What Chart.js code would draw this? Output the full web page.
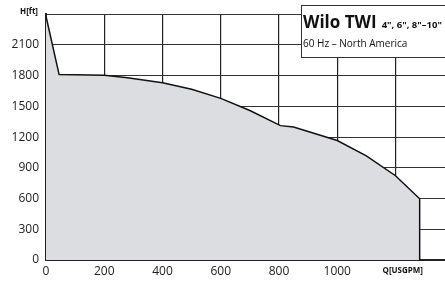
<!DOCTYPE html>
<html>
<head>
<meta charset="utf-8">
<script src="https://cdn.jsdelivr.net/npm/chart.js@4"></script>
<style>
html,body{margin:0;padding:0;background:#fff;overflow:hidden;}
#wrap{position:relative;width:445px;height:283px;}
</style>
</head>
<body>
<div id="wrap"><canvas id="c" width="445" height="283"></canvas></div>
<script>
// Data
const flowUSGPM = [0, 45, 100, 200, 280, 400, 500, 600, 700, 805, 850, 900, 1000, 1100, 1200, 1283, 1283];
const headFt    = [2380, 1810, 1808, 1803, 1779, 1731, 1667, 1578, 1460, 1312, 1298, 1255, 1167, 1017, 823, 598, 0];
const xTickValues = [0, 200, 400, 600, 800, 1000, 1200];
const xTickLabels = ['0', '200', '400', '600', '800', '1000', ''];
const yTickValues = [0, 300, 600, 900, 1200, 1500, 1800, 2100, 2400];
const yTickLabels = ['0', '300', '600', '900', '1200', '1500', '1800', '2100', ''];
const xAxisTitle = 'Q[USGPM]';
const yAxisTitle = 'H[ft]';
const titleMain = 'Wilo TWI';
const titleSizes = '4", 6", 8"–10"';
const subtitle = '60 Hz – North America';

const FONT = '"Open Sans", "Noto Sans", sans-serif';

const points = flowUSGPM.map((q, i) => ({x: q, y: headFt[i]}));

const decor = {
  id: 'decor',
  afterDraw(chart) {
    const ctx = chart.ctx;
    const xs = chart.scales.x;
    ctx.save();
    ctx.fillStyle = '#111';
    ctx.font = 'bold 8px ' + FONT;
    ctx.textAlign = 'right';
    ctx.textBaseline = 'middle';
    ctx.fillText(yAxisTitle, 38, 12);
    ctx.textAlign = 'center';
    ctx.fillText(xAxisTitle, xs.getPixelForValue(1225), 271);
    // title box
    ctx.fillStyle = '#fff';
    ctx.fillRect(301.5, 5.5, 160, 52);
    ctx.strokeStyle = '#333';
    ctx.lineWidth = 1;
    ctx.strokeRect(301.5, 5.5, 160, 52);
    ctx.fillStyle = '#111';
    ctx.textAlign = 'left';
    ctx.textBaseline = 'alphabetic';
    ctx.font = 'bold 17px ' + FONT;
    ctx.fillText(titleMain, 303, 28);
    const w = ctx.measureText(titleMain).width;
    ctx.font = 'bold 9.5px ' + FONT;
    ctx.fillText(titleSizes, 303 + w + 5, 28);
    ctx.font = '10px ' + FONT;
    ctx.fillText(subtitle, 303, 47);
    ctx.restore();
  }
};

new Chart(document.getElementById('c'), {
  type: 'line',
  data: {
    datasets: [{
      data: points,
      borderColor: '#111',
      borderWidth: 1.5,
      backgroundColor: '#dcdde0',
      fill: 'origin',
      pointRadius: 0,
      tension: 0
    }]
  },
  options: {
    responsive: false,
    animation: false,
    events: [],
    layout: {padding: {top: 6, right: 0, left: 0, bottom: 0}},
    plugins: {legend: {display: false}, tooltip: {enabled: false}},
    scales: {
      x: {
        type: 'linear',
        min: 0,
        max: 1370,
        afterBuildTicks(s) { s.ticks = xTickValues.map(v => ({value: v})); },
        afterFit(s) { s.height = 23; },
        ticks: {
          autoSkip: false,
          maxRotation: 0,
          padding: 4,
          color: '#222',
          font: {family: FONT, size: 12},
          callback: (v) => { const i = xTickValues.indexOf(v); return i >= 0 ? xTickLabels[i] : ''; }
        },
        grid: {color: '#222', lineWidth: 1.2, drawTicks: false},
        border: {display: true, color: '#222', width: 2}
      },
      y: {
        type: 'linear',
        min: 0,
        max: 2400,
        afterBuildTicks(s) { s.ticks = yTickValues.map(v => ({value: v})); },
        afterFit(s) { s.width = 46; },
        ticks: {
          autoSkip: false,
          padding: 7,
          color: '#222',
          font: {family: FONT, size: 12},
          callback: (v) => { const i = yTickValues.indexOf(v); return i >= 0 ? yTickLabels[i] : ''; }
        },
        grid: {color: '#333', lineWidth: 1, drawTicks: false},
        border: {color: '#222', width: 2}
      }
    }
  },
  plugins: [decor]
});
</script>
</body>
</html>
